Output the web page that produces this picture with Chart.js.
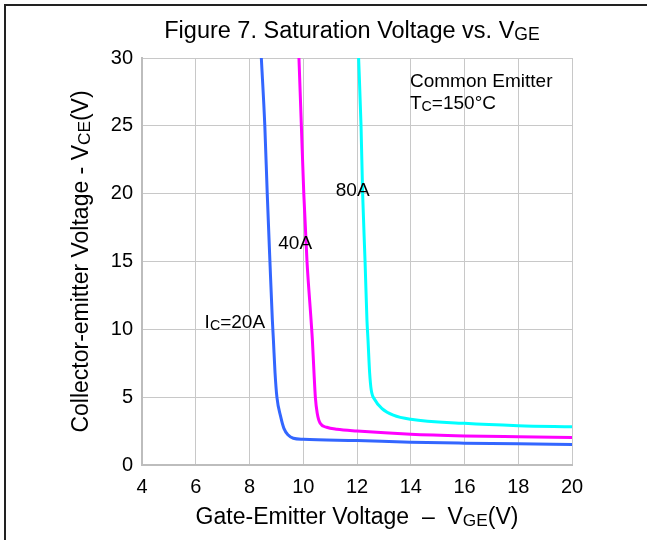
<!DOCTYPE html>
<html>
<head>
<meta charset="utf-8">
<script src="https://cdn.jsdelivr.net/npm/chart.js@4.4.0/dist/chart.umd.min.js"></script>
<style>
  html, body { margin: 0; padding: 0; background: #fff; }
  canvas { display: block; }
</style>
</head>
<body>
<canvas id="myChart" width="647" height="540"></canvas>
<script>
// Ic = 20A
const vge20 = [8.44, 8.57, 8.66, 8.76, 8.85, 8.89, 8.95, 9.02, 9.16, 9.28, 9.44, 9.63, 10, 12, 14, 16, 18, 20];
const vce20 = [30, 25, 20, 15, 10.7, 9.2, 6.8, 5, 3.56, 2.7, 2.21, 1.97, 1.89, 1.8, 1.68, 1.61, 1.56, 1.52];

// Ic = 40A
const vge40 = [9.84, 9.93, 10.02, 10.14, 10.29, 10.34, 10.4, 10.45, 10.52, 10.63, 10.87, 11.25, 12, 14, 16, 18, 20];
const vce40 = [30, 25, 20, 15, 10.7, 9.2, 6.8, 5, 3.81, 3.07, 2.78, 2.63, 2.5, 2.26, 2.14, 2.08, 2.03];

// Ic = 80A
const vge80 = [12.06, 12.15, 12.21, 12.3, 12.37, 12.41, 12.47, 12.53, 12.67, 12.92, 13.35, 14, 16, 18, 20];
const vce80 = [30, 25, 20, 15, 10.7, 9.2, 6.8, 5.53, 4.79, 4.18, 3.68, 3.37, 3.07, 2.9, 2.82];

const xTicks = [4, 6, 8, 10, 12, 14, 16, 18, 20];
const yTicks = [0, 5, 10, 15, 20, 25, 30];

// labels on the plot, in data units
const notes = [
  { parts: [['Common Emitter', false]], x: 13.97, y: 27.86 },
  { parts: [['T', false], ['C', true], ['=150°C', false]], x: 13.97, y: 26.23 },
  { parts: [['80A', false]], x: 11.21, y: 19.82 },
  { parts: [['40A', false]], x: 9.07, y: 15.9 },
  { parts: [['I', false], ['C', true], ['=20A', false]], x: 6.33, y: 10.07 }
];

const FONT = '"Liberation Sans", Arial, sans-serif';

function toPoints(xs, ys) {
  return xs.map((x, i) => ({ x: x, y: ys[i] }));
}

function richWidth(ctx, parts, size) {
  let w = 0;
  parts.forEach(p => {
    ctx.font = (p[1] ? size * 0.75 : size) + 'px ' + FONT;
    w += ctx.measureText(p[0]).width;
  });
  return w;
}

function drawRich(ctx, parts, x, y, size, center) {
  let cx = center ? x - richWidth(ctx, parts, size) / 2 : x;
  ctx.textBaseline = 'alphabetic';
  ctx.textAlign = 'left';
  parts.forEach(p => {
    const s = p[1] ? size * 0.75 : size;
    ctx.font = s + 'px ' + FONT;
    ctx.fillText(p[0], cx, p[1] ? y + size * 0.1 : y);
    cx += ctx.measureText(p[0]).width;
  });
}

const textPlugin = {
  id: 'texts',
  afterDraw(chart) {
    const ctx = chart.ctx;
    const area = chart.chartArea;
    const xs = chart.scales.x;
    const ys = chart.scales.y;
    ctx.save();

    // frame
    ctx.strokeStyle = '#222';
    ctx.lineWidth = 2;
    ctx.beginPath();
    ctx.moveTo(5, 540);
    ctx.lineTo(5, 5);
    ctx.lineTo(647, 5);
    ctx.stroke();

    ctx.fillStyle = '#000';
    const midX = (area.left + area.right) / 2;
    const midY = (area.top + area.bottom) / 2;

    drawRich(ctx, [['Figure 7. Saturation Voltage vs. V', false], ['GE', true]], midX - 5, 38, 23.5, true);
    drawRich(ctx, [['Gate-Emitter Voltage  \u2013  V', false], ['GE', true], ['(V)', false]], midX, 524, 23, true);

    ctx.save();
    ctx.translate(88, midY);
    ctx.rotate(-Math.PI / 2);
    drawRich(ctx, [['Collector-emitter Voltage - V', false], ['CE', true], ['(V)', false]], 0, 0, 23, true);
    ctx.restore();

    notes.forEach(n => {
      drawRich(ctx, n.parts, xs.getPixelForValue(n.x), ys.getPixelForValue(n.y), 19, false);
    });
    ctx.restore();
  }
};

const ctx = document.getElementById('myChart').getContext('2d');
const myChart = new Chart(ctx, {
  type: 'scatter',
  data: {
    datasets: [
      { label: '20A', data: toPoints(vge20, vce20), borderColor: '#3366ff' },
      { label: '40A', data: toPoints(vge40, vce40), borderColor: '#ff00ff' },
      { label: '80A', data: toPoints(vge80, vce80), borderColor: '#00ffff' }
    ].map(d => Object.assign(d, {
      showLine: true,
      pointRadius: 0,
      borderWidth: 3,
      cubicInterpolationMode: 'monotone',
      fill: false
    }))
  },
  options: {
    responsive: false,
    animation: false,
    layout: { padding: { left: 0, top: 58, right: 75, bottom: 0 } },
    plugins: {
      legend: { display: false },
      tooltip: { enabled: false }
    },
    scales: {
      x: {
        type: 'linear',
        min: xTicks[0],
        max: xTicks[xTicks.length - 1],
        afterBuildTicks: s => { s.ticks = xTicks.map(v => ({ value: v })); },
        afterFit: s => { s.height = 75; },
        grid: { color: '#c8c8c8', lineWidth: 1, drawTicks: false },
        border: { color: '#bdbdbd', width: 2 },
        ticks: { color: '#000', padding: 10, font: { family: FONT, size: 20 } }
      },
      y: {
        type: 'linear',
        min: yTicks[0],
        max: yTicks[yTicks.length - 1],
        afterBuildTicks: s => { s.ticks = yTicks.map(v => ({ value: v })); },
        afterFit: s => { s.width = 142; },
        grid: { color: '#c8c8c8', lineWidth: 1, drawTicks: false },
        border: { color: '#bdbdbd', width: 2 },
        ticks: { color: '#000', padding: 9, font: { family: FONT, size: 20 } }
      }
    }
  },
  plugins: [textPlugin]
});
</script>
</body>
</html>
